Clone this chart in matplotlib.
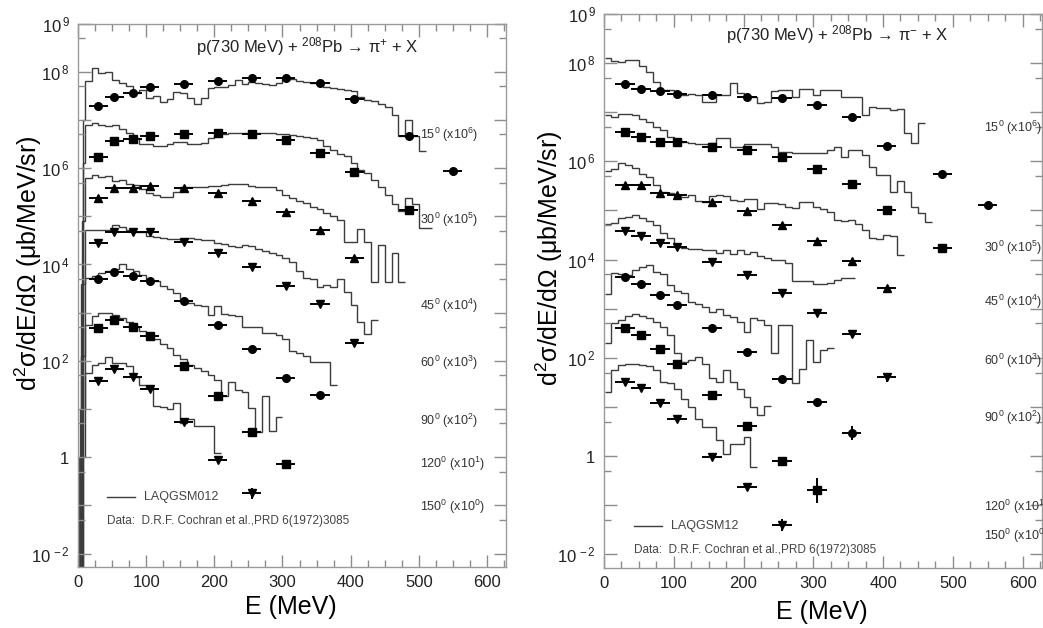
import numpy as np
import matplotlib
matplotlib.use('Agg')
import matplotlib.pyplot as plt
from matplotlib.ticker import MultipleLocator, LogLocator, FuncFormatter, NullFormatter

plt.rcParams['font.family'] = ['Liberation Sans', 'DejaVu Sans']
plt.rcParams['mathtext.fontset'] = 'custom'
plt.rcParams['mathtext.rm'] = 'Liberation Sans'
plt.rcParams['mathtext.it'] = 'Liberation Sans:italic'
plt.rcParams['mathtext.bf'] = 'Liberation Sans:bold'

# angles, scale factors and markers (same for both panels)
angles = ['15', '30', '45', '60', '90', '120', '150']
scales = ['6', '5', '4', '3', '2', '1', '0']
markers = ['o', 's', '^', 'v', 'o', 's', 'v']

# measured pion energies (MeV); each angle uses the first n points
E_data = [30, 53, 80, 105, 155, 205, 255, 305, 355, 405, 485, 550]

# ---------------- p + Pb -> pi+ : data, log10(scaled d2sigma)
pip_d15 = [7.29, 7.48, 7.55, 7.68, 7.75, 7.81, 7.88, 7.86, 7.76, 7.43, 6.67, 5.94]
pip_d30 = [6.24, 6.56, 6.60, 6.67, 6.70, 6.72, 6.70, 6.58, 6.31, 5.91, 5.12]
pip_d45 = [5.37, 5.58, 5.59, 5.63, 5.59, 5.49, 5.32, 5.08, 4.72, 4.14]
pip_d60 = [4.44, 4.67, 4.68, 4.67, 4.47, 4.23, 3.94, 3.55, 3.18, 2.37]
pip_d90 = [3.70, 3.84, 3.76, 3.66, 3.25, 2.75, 2.25, 1.64, 1.29]
pip_d120 = [2.69, 2.85, 2.71, 2.52, 1.90, 1.26, 0.53, -0.14]
pip_d150 = [1.58, 1.83, 1.67, 1.41, 0.72, -0.06, -0.75]

# LAQGSM histograms, 10 MeV bins starting at 10 MeV (log10)
pip_h15 = [7.8, 8.08, 7.97, 8.0, 7.83, 7.76, 7.7, 7.55, 7.62, 7.45, 7.5, 7.38, 7.43, 7.58,
           7.55, 7.45, 7.34, 7.45, 7.66, 7.68, 7.68, 7.73, 7.82, 7.75, 7.79, 7.76, 7.74,
           7.73, 7.76, 7.84, 7.84, 7.81, 7.78, 7.76, 7.72, 7.69, 7.66, 7.65, 7.62, 7.6,
           7.48, 7.42, 7.4, 7.34, 7.27, 7.10, 6.67, 7.0, 6.67, 6.36]
pip_h30 = [6.9, 6.93, 6.9, 6.87, 6.9, 6.82, 6.72, 6.62, 6.5, 6.5, 6.45, 6.45, 6.5, 6.55,
           6.55, 6.5, 6.5, 6.52, 6.62, 6.66, 6.7, 6.72, 6.72, 6.72, 6.72, 6.73, 6.72, 6.72,
           6.71, 6.7, 6.69, 6.67, 6.64, 6.62, 6.58, 6.45, 6.37, 6.3, 6.25, 6.1, 5.96, 5.89,
           5.75, 5.61, 5.44, 5.26, 5.1, 5.37, 5.26, 4.76, 4.76]
pip_h45 = [5.8, 5.86, 5.82, 5.84, 5.74, 5.76, 5.67, 5.64, 5.56, 5.49, 5.45, 5.41, 5.41, 5.5,
           5.6, 5.61, 5.61, 5.6, 5.62, 5.63, 5.64, 5.67, 5.67, 5.66, 5.63, 5.61, 5.6, 5.6,
           5.55, 5.44, 5.38, 5.32, 5.28, 5.2, 5.15, 5.06, 5.0, 4.92, 4.47, 4.47, 4.73, 4.47,
           3.64, 4.41, 3.64, 4.23, 3.64]
pip_h60 = [4.72, 4.72, 4.71, 4.71, 4.82, 4.77, 4.71, 4.68, 4.68, 4.6, 4.56, 4.55, 4.52, 4.52,
           4.5, 4.54, 4.53, 4.51, 4.5, 4.45, 4.42, 4.38, 4.37, 4.41, 4.38, 4.32, 4.27, 4.24,
           4.2, 4.13, 4.05, 3.87, 3.71, 3.70, 3.53, 3.57, 3.53, 3.69, 3.42, 3.16, 2.81, 2.56, 2.85]
pip_h90 = [3.71, 3.75, 3.82, 3.87, 3.9, 4.01, 3.9, 3.86, 3.78, 3.68, 3.66, 3.55, 3.5, 3.4,
           3.28, 3.2, 3.16, 3.14, 2.95, 3.14, 2.97, 2.95, 2.93, 2.71, 2.71, 2.71, 2.57, 2.57,
           2.54, 2.45, 2.2, 2.16, 2.1, 1.98, 1.98, 1.98, 1.50]
pip_h120 = [2.75, 2.92, 2.99, 3.0, 2.95, 2.88, 2.81, 2.71, 2.61, 2.54, 2.45, 2.34, 2.26, 2.12,
            2.03, 1.92, 1.85, 1.78, 1.71, 1.60, 1.26, 1.57, 1.40, 1.36, 1.02, 0.53, 1.26, 0.55, 0.84]
pip_h150 = [1.75, 1.92, 1.95, 2.07, 1.95, 1.95, 1.9, 1.66, 1.5, 1.43, 1.06, 1.04, 1.0, 1.13,
            0.70, 0.79, 0.64, 0.64, 0.64, 0.08]
# low-energy start of each histogram: first edge (MeV) and value below 10 MeV
pip_e0 = [8, 7, 6, 5, 4, 3, 2]
pip_pre = [7.0, 6.1, 4.9, 3.6, 2.1, 1.0, 0.0]
# points with visible vertical error bars: (angle index, point index, dex)
pip_yerr = [(0, 11, 0.06), (3, 9, 0.06), (5, 7, 0.08), (6, 6, 0.12)]

# ---------------- p + Pb -> pi- : data, log10(scaled d2sigma)
pim_d15 = [7.57, 7.48, 7.44, 7.38, 7.35, 7.31, 7.28, 7.15, 6.91, 6.32, 5.74, 5.11]
pim_d30 = [6.59, 6.50, 6.40, 6.40, 6.30, 6.23, 6.09, 5.84, 5.53, 5.01, 4.23]
pim_d45 = [5.52, 5.52, 5.35, 5.31, 5.18, 4.99, 4.70, 4.38, 3.97, 3.43]
pim_d60 = [4.58, 4.48, 4.33, 4.26, 3.95, 3.68, 3.32, 2.91, 2.49, 1.60]
pim_d90 = [3.65, 3.50, 3.28, 3.08, 2.60, 2.11, 1.56, 1.10, 0.47]
pim_d120 = [2.60, 2.46, 2.18, 1.88, 1.24, 0.61, -0.10, -0.70]
pim_d150 = [1.51, 1.39, 1.08, 0.75, -0.02, -0.63, -1.40]

pim_h15 = [8.05, 8.03, 8.07, 8.07, 7.95, 7.82, 7.62, 7.45, 7.45, 7.42, 7.35, 7.38, 7.35, 7.21,
           7.21, 7.35, 7.35, 7.59, 7.4, 7.35, 7.31, 7.18, 7.21, 7.44, 7.45, 7.45, 7.31, 7.48,
           7.48, 7.35, 7.46, 7.46, 7.46, 7.31, 7.31, 7.31, 6.94, 7.11, 7.08, 7.08, 7.05, 7.06,
           6.57, 6.38, 6.77]
pim_h30 = [6.9, 6.97, 6.96, 6.94, 6.87, 6.80, 6.70, 6.64, 6.5, 6.44, 6.40, 6.37, 6.35, 6.36,
           6.37, 6.47, 6.47, 6.29, 6.29, 6.36, 6.35, 6.35, 6.36, 6.29, 6.19, 6.19, 6.16, 6.16,
           6.16, 6.16, 6.16, 6.22, 6.29, 6.09, 6.22, 6.22, 6.12, 5.89, 5.72, 5.72, 5.37, 5.60,
           5.37, 5.07, 4.95, 4.77]
pim_h45 = [5.85, 5.96, 5.92, 5.87, 5.75, 5.69, 5.52, 5.38, 5.35, 5.3, 5.28, 5.31, 5.2, 5.18,
           5.29, 5.31, 5.29, 5.21, 5.2, 5.23, 5.23, 5.02, 5.16, 5.16, 5.13, 5.07, 5.04, 5.175,
           5.175, 5.07, 5.02, 4.97, 4.8, 4.78, 4.8, 4.73, 4.6, 4.43, 4.41, 4.50, 4.48, 4.09]
pim_h60 = [4.75, 4.84, 4.87, 4.90, 4.84, 4.78, 4.70, 4.55, 4.44, 4.26, 4.24, 4.21, 4.22, 4.19,
           4.2, 4.14, 4.19, 4.12, 4.19, 4.12, 4.15, 4.07, 4.04, 4.0, 4.0, 3.92, 3.57, 3.57,
           3.57, 3.50, 3.50, 3.53, 3.59, 3.63, 3.63]
pim_h90 = [3.72, 3.70, 3.68, 3.78, 3.85, 3.88, 3.75, 3.70, 3.48, 3.35, 3.31, 3.14, 3.1, 3.04,
           2.94, 3.0, 2.87, 2.84, 2.73, 2.53, 2.80, 2.76, 2.66, 2.09, 2.66, 2.66, 1.48, 1.78,
           2.37, 1.92, 2.16, 2.19]
pim_h120 = [2.70, 2.77, 2.85, 2.89, 2.86, 2.8, 2.72, 2.62, 2.46, 2.09, 1.92, 1.95, 2.02, 1.88,
            1.58, 1.51, 1.75, 1.51, 1.37, 1.20, 1.0, 0.83, 1.01]
pim_h150 = [1.75, 1.85, 1.88, 1.88, 1.85, 1.83, 1.75, 1.51, 1.48, 1.37, 1.17, 1.0, 0.76, 0.6,
            0.59, 0.32, 0.05, 0.25, 0.25, 0.39, -0.22]
pim_e0 = [2, 2, 2, 2, 2, 2, 2]
pim_pre = [8.1, 6.94, 5.8, 4.72, 3.3, 2.3, 1.3]
pim_yerr = [(0, 11, 0.07), (1, 10, 0.07), (3, 9, 0.1), (4, 8, 0.15), (5, 7, 0.25), (6, 6, 0.12)]

panels = [
    dict(data=[pip_d15, pip_d30, pip_d45, pip_d60, pip_d90, pip_d120, pip_d150],
         hist=[pip_h15, pip_h30, pip_h45, pip_h60, pip_h90, pip_h120, pip_h150],
         e0=pip_e0, pre=pip_pre, yerr=pip_yerr, to_bottom=True,
         title='p(730 MeV) + $^{208}$Pb → π$^{+}$ + X', model='LAQGSM012',
         rect=[0.0748, 0.0971, 0.4104, 0.8654], title_xy=(0.535, 0.958),
         lab_x=0.799, lab_y=[0.796, 0.639, 0.481, 0.376, 0.269, 0.19, 0.11],
         leg_y=0.129, data_y=0.085, ylab_x=-0.117, xlab_y=-0.074),
    dict(data=[pim_d15, pim_d30, pim_d45, pim_d60, pim_d90, pim_d120, pim_d150],
         hist=[pim_h15, pim_h30, pim_h45, pim_h60, pim_h90, pim_h120, pim_h150],
         e0=pim_e0, pre=pim_pre, yerr=pim_yerr, to_bottom=False,
         title='p(730 MeV) + $^{208}$Pb → π$^{-}$ + X', model='LAQGSM12',
         rect=[0.5791, 0.0955, 0.4200, 0.8823], title_xy=(0.533, 0.962),
         lab_x=0.868, lab_y=[0.794, 0.578, 0.48, 0.374, 0.271, 0.11, 0.058],
         leg_y=0.076, data_y=0.033, ylab_x=-0.126, xlab_y=-0.079),
]

shown_exp = {9, 8, 6, 4, 2, 0, -2}


def ylabel_fmt(v, pos):
    n = int(round(np.log10(v)))
    if n not in shown_exp:
        return ''
    if n == 0:
        return r'$\mathregular{1\ \ }$'
    return r'$\mathregular{10^{\,%d}}$' % n


fig = plt.figure(figsize=(10.43, 6.28), dpi=100)
hist_color = '#3c3c3c'

for p in panels:
    ax = fig.add_axes(p['rect'])
    ax.set_yscale('log')

    for i in range(7):
        # model histogram
        vals = [10.0 ** v for v in p['hist'][i]]
        edges = list(10 + 10 * np.arange(len(vals) + 1))
        vals = [10.0 ** p['pre'][i]] + vals
        edges = [p['e0'][i]] + edges
        if p['to_bottom']:
            vals = [1e-6] + vals
            edges = [0] + edges
        ax.stairs(vals, edges, baseline=None, color=hist_color, lw=1.0)

        # data points
        y = np.array([10.0 ** v for v in p['data'][i]])
        x = E_data[:len(y)]
        dex = np.zeros(len(y))
        for (a, k, d) in p['yerr']:
            if a == i:
                dex[k] = d
        yerr = [y - y * 10.0 ** (-dex), y * 10.0 ** dex - y]
        ax.errorbar(x, y, xerr=14, yerr=yerr, fmt=markers[i], ms=5.5, color='black',
                    elinewidth=1.4, capsize=0, zorder=3)

        ax.text(p['lab_x'], p['lab_y'][i],
                r'$\mathregular{%s^{0}\ (x10^{%s})}$' % (angles[i], scales[i]),
                transform=ax.transAxes, fontsize=9, color='#333333', va='center', ha='left')

    ax.set_xlim(0, 628)
    ax.set_ylim(10 ** -2.28, 1e9)
    ax.xaxis.set_major_locator(MultipleLocator(100))
    ax.xaxis.set_minor_locator(MultipleLocator(25))
    ax.yaxis.set_major_locator(LogLocator(base=10, numticks=30))
    ax.yaxis.set_minor_locator(LogLocator(base=10, subs=(5.0,), numticks=30))
    ax.yaxis.set_major_formatter(FuncFormatter(ylabel_fmt))
    ax.yaxis.set_minor_formatter(NullFormatter())
    ax.tick_params(which='both', direction='in', top=True, right=True, color='#8c8c8c',
                   labelsize=12, labelcolor='#222222')
    ax.tick_params(which='major', length=9, width=1.0)
    ax.tick_params(which='minor', length=5, width=1.0)
    ax.tick_params(axis='y', pad=6)
    ax.tick_params(axis='x', pad=6)
    for s in ax.spines.values():
        s.set_color('#9a9a9a')
        s.set_linewidth(1.0)

    ax.text(p['title_xy'][0], p['title_xy'][1], p['title'], transform=ax.transAxes,
            ha='center', va='center', fontsize=12, color='#222222')

    # legend
    ax.plot([0.068, 0.133], [p['leg_y'], p['leg_y']], transform=ax.transAxes,
            color=hist_color, lw=1.0)
    ax.text(0.154, p['leg_y'], p['model'], transform=ax.transAxes, fontsize=9,
            va='center', ha='left', color='#444444')
    ax.text(0.068, p['data_y'], 'Data:  D.R.F. Cochran et al.,PRD 6(1972)3085',
            transform=ax.transAxes, fontsize=8.5, va='center', ha='left', color='#444444')

    ax.set_xlabel('E (MeV)', fontsize=18, va='center')
    ax.xaxis.set_label_coords(0.497, p['xlab_y'])
    ax.set_ylabel('d$^{2}$σ/dE/dΩ (μb/MeV/sr)', fontsize=18, va='center')
    ax.yaxis.set_label_coords(p['ylab_x'], 0.56)

fig.savefig('out.png', dpi=100)
